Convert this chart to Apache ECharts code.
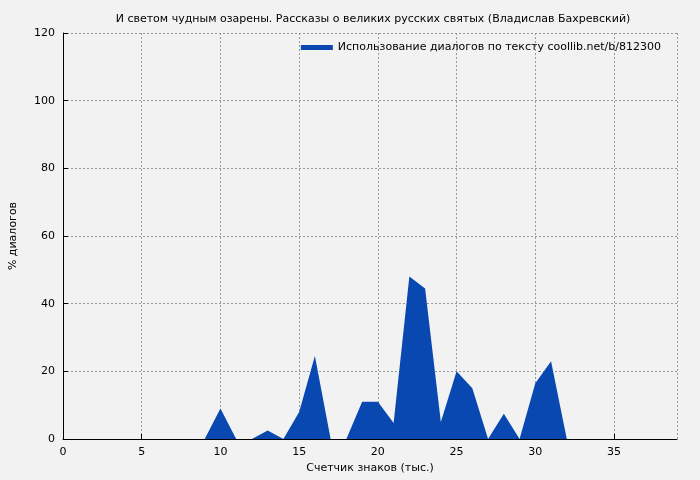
<!DOCTYPE html>
<html><head><meta charset="utf-8">
<script src="https://cdn.jsdelivr.net/npm/echarts@6/dist/echarts.min.js"></script>
<style>html,body{margin:0;padding:0;background:#f2f2f2}#c{width:700px;height:480px}</style>
</head><body><div id="c"></div>
<script>
const title = "И светом чудным озарены. Рассказы о великих русских святых (Владислав Бахревский)";
const seriesName = "Использование диалогов по тексту coollib.net/b/812300";
const xValues = [0,1,2,3,4,5,6,7,8,9,10,11,12,13,14,15,16,17,18,19,20,21,22,23,24,25,26,27,28,29,30,31,32,33,34,35,36,37,38];
const yValues = [0,0,0,0,0,0,0,0,0,0,9,0,0,2.5,0,8,24.5,0,0,11,11,4.7,48,44.5,5,20,15,0,7.5,0,16.5,23,0,0,0,0,0,0,0];
const font = "DejaVu Sans";
const chart = echarts.init(document.getElementById('c'));
chart.setOption({
  backgroundColor:'#f2f2f2',
  animation:false,
  title:{text:title,left:368,top:9,textAlign:'center',textStyle:{fontFamily:font,fontSize:11,fontWeight:'normal',color:'#000'}},
  legend:{data:[{name:seriesName,icon:'rect'}],right:34,top:37,itemWidth:32,itemHeight:5,textStyle:{fontFamily:font,fontSize:11,color:'#000'}},
  grid:{left:61,right:23,top:33,bottom:41},
  xAxis:{type:'value',min:0,max:39,interval:5,
    name:'Счетчик знаков (тыс.)',nameLocation:'middle',nameGap:24,nameTextStyle:{fontFamily:font,fontSize:11,color:'#000'},
    axisLine:{lineStyle:{color:'#000'}},axisTick:{inside:true,length:5,lineStyle:{color:'#000'}},
    axisLabel:{fontFamily:font,fontSize:11,color:'#000',showMaxLabel:false},
    splitLine:{lineStyle:{color:'#999',type:[2,2]}}},
  yAxis:{type:'value',min:0,max:120,interval:20,
    name:'% диалогов',nameLocation:'middle',nameGap:44,nameTextStyle:{fontFamily:font,fontSize:11,color:'#000'},
    axisLine:{show:true,lineStyle:{color:'#000'}},axisTick:{inside:true,length:5,lineStyle:{color:'#000'}},
    axisLabel:{fontFamily:font,fontSize:11,color:'#000'},
    splitLine:{lineStyle:{color:'#999',type:[2,2]}}},
  series:[{name:seriesName,type:'line',data:xValues.map((x,i)=>[x,yValues[i]]),
    symbol:'none',lineStyle:{width:0,color:'#0848b0'},itemStyle:{color:'#0848b0'},areaStyle:{color:'#0848b0',opacity:1}}]
});
</script></body></html>
